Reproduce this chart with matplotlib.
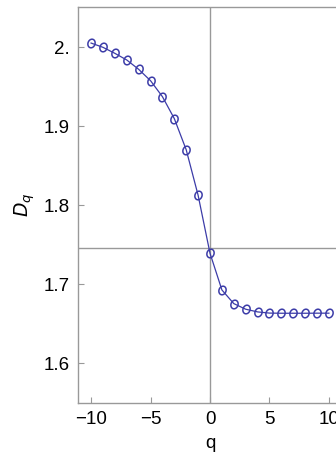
import matplotlib
matplotlib.use("Agg")
import numpy as np
import matplotlib.pyplot as plt
from matplotlib.path import Path

q = [-10, -9, -8, -7, -6, -5, -4, -3, -2, -1, 0, 1, 2, 3, 4, 5, 6, 7, 8, 9, 10]
dq = [2.005, 1.9996, 1.992, 1.9836, 1.9718, 1.9574, 1.9372, 1.9094, 1.870, 1.8125,
      1.7392, 1.6928, 1.6755, 1.6684, 1.665, 1.6635, 1.6633, 1.6633, 1.6633, 1.6634, 1.6634]
xticks = [-10, -5, 0, 5, 10]
xticklabels = ["\u221210", "\u22125", "0", "5", "10"]
yticks = [1.6, 1.7, 1.8, 1.9, 2.0]
yticklabels = ["1.6", "1.7", "1.8", "1.9", "2."]

plt.rcParams['font.family'] = ['Liberation Sans', 'DejaVu Sans']

# slightly tilted ellipse marker, like the reference
t = np.linspace(0, 2 * np.pi, 60)
ex, ey = 0.8 * np.cos(t), np.sin(t)
a = np.deg2rad(-20)
ell = Path(np.column_stack([ex * np.cos(a) - ey * np.sin(a), ex * np.sin(a) + ey * np.cos(a)]), closed=True)

fig = plt.figure(figsize=(3.36, 4.57), dpi=100)
ax = fig.add_axes([78 / 336, 54.4 / 457, 264 / 336, 395.6 / 457])

blue = '#3c3ca8'
ax.axvline(0, color='#999999', lw=1.0, zorder=1)
ax.axhline(1.7455, color='#999999', lw=1.0, zorder=1)
ax.plot(q, dq, '-', color=blue, lw=0.9, zorder=2)
ax.plot(q, dq, ls='none', marker=ell, ms=6.2, mfc='none', mec=blue, mew=1.1, zorder=3)

ax.set_xlim(-11.1, 11.1)
ax.set_ylim(1.5503, 2.0506)
ax.set_xticks(xticks)
ax.set_xticklabels(xticklabels)
ax.set_yticks(yticks)
ax.set_yticklabels(yticklabels)
ax.tick_params(direction='in', length=4, width=0.8, color='#999999', labelsize=13.5, pad=6)
for s in ax.spines.values():
    s.set_color('#999999')
    s.set_linewidth(1.0)
ax.spines['right'].set_visible(False)

ax.set_xlabel('q', fontsize=13.5, labelpad=5)
ax.set_ylabel('$D_q$', fontsize=13.5, labelpad=5)

fig.savefig('out.png', dpi=100)
